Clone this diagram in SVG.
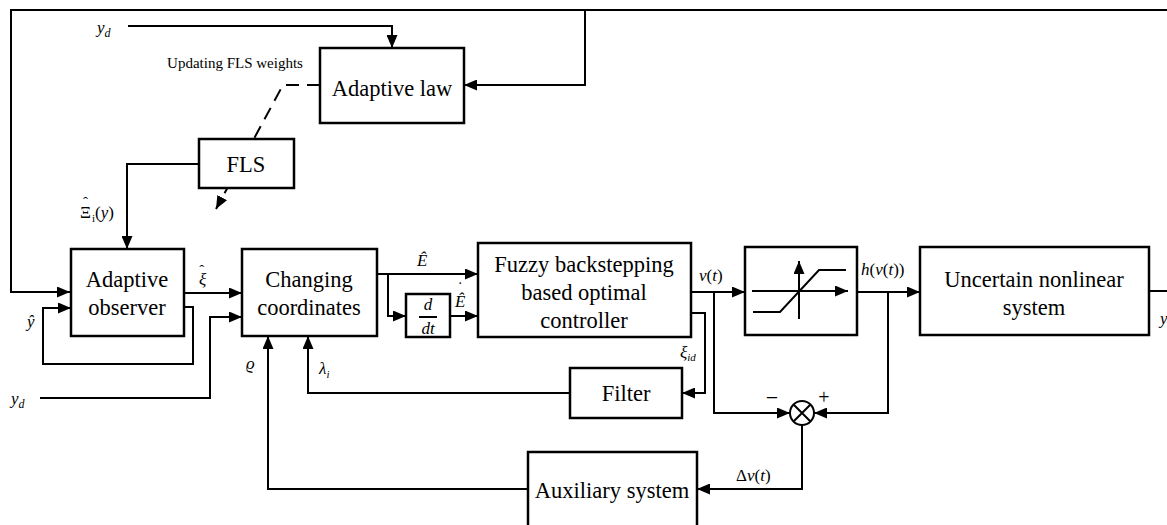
<svg xmlns="http://www.w3.org/2000/svg" width="1167" height="525" viewBox="0 0 1167 525">
<style>
.box{fill:#fff;stroke:#000;stroke-width:2.5}
.ln{fill:none;stroke:#000;stroke-width:2}
.lbl{font-family:'Liberation Serif','Times New Roman','DejaVu Serif',serif;font-size:22.5px;fill:#000;text-anchor:middle}
.m{font-family:'Liberation Serif','Times New Roman','DejaVu Serif',serif;font-size:17px;fill:#000;font-style:italic}
.mu{font-style:normal}
.sm{font-family:'Liberation Serif','Times New Roman','DejaVu Serif',serif;font-size:15px;fill:#000}
</style>
<defs>
<marker id="ah" markerUnits="userSpaceOnUse" markerWidth="13" markerHeight="11" refX="13" refY="5.5" orient="auto">
<path d="M0,0 L13,5.5 L0,11 z" fill="#000"/>
</marker>
</defs>
<rect width="1167" height="525" fill="#fff"/>
<g id="connectors">
<path class="ln" d="M1167,10 H11 V292 H70" marker-end="url(#ah)"/>
<path class="ln" d="M585,10 V85 H464" marker-end="url(#ah)"/>
<path class="ln" d="M128,26 H392 V48" marker-end="url(#ah)"/>
<path class="ln" d="M320,85 H283 L216,209" stroke-dasharray="13,8" marker-end="url(#ah)"/>
<path class="ln" d="M199,164 H127 V249" marker-end="url(#ah)"/>
<path class="ln" d="M184,307 H193 V364 H43 V308 H71" marker-end="url(#ah)"/>
<path class="ln" d="M184,293 H242" marker-end="url(#ah)"/>
<path class="ln" d="M40,398 H210 V317 H242" marker-end="url(#ah)"/>
<path class="ln" d="M528,489 H268 V336" marker-end="url(#ah)"/>
<path class="ln" d="M570,393 H308 V336" marker-end="url(#ah)"/>
<path class="ln" d="M377,274 H478" marker-end="url(#ah)"/>
<path class="ln" d="M388,274 V316 H406" marker-end="url(#ah)"/>
<path class="ln" d="M450,316 H478" marker-end="url(#ah)"/>
<path class="ln" d="M691,292 H745" marker-end="url(#ah)"/>
<path class="ln" d="M691,313 H705 V393 H682" marker-end="url(#ah)"/>
<path class="ln" d="M714,292 V413 H790" marker-end="url(#ah)"/>
<path class="ln" d="M857,292 H920" marker-end="url(#ah)"/>
<path class="ln" d="M888,292 V413 H814" marker-end="url(#ah)"/>
<path class="ln" d="M802,425 V489 H697" marker-end="url(#ah)"/>
<path class="ln" d="M1149,291 H1167"/>
</g>
<g id="adaptive-law">
<rect class="box" x="320" y="48" width="144" height="75"/>
<text class="lbl" x="392" y="96">Adaptive law</text>
</g>
<g id="fls">
<rect class="box" x="199" y="139" width="95" height="49"/>
<text class="lbl" x="246" y="172">FLS</text>
</g>
<g id="adaptive-observer">
<rect class="box" x="71" y="249" width="113" height="87"/>
<text class="lbl" x="127" y="287">Adaptive</text>
<text class="lbl" x="127" y="315">observer</text>
</g>
<g id="changing-coordinates">
<rect class="box" x="242" y="249" width="135" height="87"/>
<text class="lbl" x="309" y="287">Changing</text>
<text class="lbl" x="309" y="315">coordinates</text>
</g>
<g id="ddt">
<rect class="box" x="406" y="294" width="44" height="43"/>
<text class="m" x="428" y="310" text-anchor="middle">d</text>
<line x1="419" y1="317" x2="437" y2="317" stroke="#000" stroke-width="2"/>
<text class="m" x="428" y="334" text-anchor="middle">dt</text>
</g>
<g id="fuzzy-controller">
<rect class="box" x="478" y="243" width="213" height="94"/>
<text class="lbl" x="584" y="272">Fuzzy backstepping</text>
<text class="lbl" x="584" y="300">based optimal</text>
<text class="lbl" x="584" y="328">controller</text>
</g>
<g id="saturation">
<rect class="box" x="745" y="247" width="112" height="88"/>
<path class="ln" d="M752,291 H848" marker-end="url(#ah)"/>
<path class="ln" d="M799,319 V261" marker-end="url(#ah)"/>
<path class="ln" d="M753,312 H780 L819,270 H846"/>
</g>
<g id="uncertain-system">
<rect class="box" x="920" y="247" width="229" height="88"/>
<text class="lbl" x="1034" y="287">Uncertain nonlinear</text>
<text class="lbl" x="1034" y="315">system</text>
</g>
<g id="filter">
<rect class="box" x="570" y="368" width="112" height="50"/>
<text class="lbl" x="626" y="401">Filter</text>
</g>
<g id="auxiliary-system">
<rect class="box" x="528" y="452" width="169" height="80"/>
<text class="lbl" x="612" y="498">Auxiliary system</text>
</g>
<g id="sum">
<circle cx="802" cy="413" r="12" fill="#fff" stroke="#000" stroke-width="2"/>
<path class="ln" d="M793.5,404.5 L810.5,421.5 M810.5,404.5 L793.5,421.5"/>
<text class="sm" x="772" y="405" text-anchor="middle" style="font-size:22px">−</text>
<text class="sm" x="824" y="404" text-anchor="middle" style="font-size:20px">+</text>
</g>
<g id="labels">
<text class="m" x="97" y="33">y<tspan font-size="12" dy="4">d</tspan></text>
<text class="sm" x="235" y="68" text-anchor="middle">Updating FLS weights</text>
<text class="m" x="80" y="218"><tspan class="mu">Ξ</tspan><tspan class="mu" dx="-8" dy="-11" font-size="15">ˆ</tspan><tspan class="mu" font-size="11" dx="4" dy="15">i</tspan><tspan class="mu" dy="-4">(</tspan>y<tspan class="mu">)</tspan></text>
<text class="m" x="27" y="327">ŷ</text>
<text class="m" x="199" y="285">ξ<tspan class="mu" dx="-7" dy="-10" font-size="15">ˆ</tspan></text>
<text class="m" x="11" y="404">y<tspan font-size="12" dy="4">d</tspan></text>
<text class="m" x="246" y="369">ϱ</text>
<text class="m" x="319" y="374">λ<tspan font-size="11" dy="4">i</tspan></text>
<text class="m" x="417" y="266">Ê</text>
<text class="m" x="455" y="307">Ê<tspan class="mu" dx="-8" dy="-14" font-size="16">˙</tspan></text>
<text class="m" x="699" y="281">v<tspan class="mu">(</tspan>t<tspan class="mu">)</tspan></text>
<text class="m" x="680" y="358">ξ<tspan font-size="11" dy="3">id</tspan></text>
<text class="m" x="861" y="275">h<tspan class="mu">(</tspan>v<tspan class="mu">(</tspan>t<tspan class="mu">))</tspan></text>
<text class="m" x="736" y="481"><tspan class="mu">Δ</tspan>v<tspan class="mu">(</tspan>t<tspan class="mu">)</tspan></text>
<text class="m" x="1160" y="324">y</text>
</g>
</svg>
